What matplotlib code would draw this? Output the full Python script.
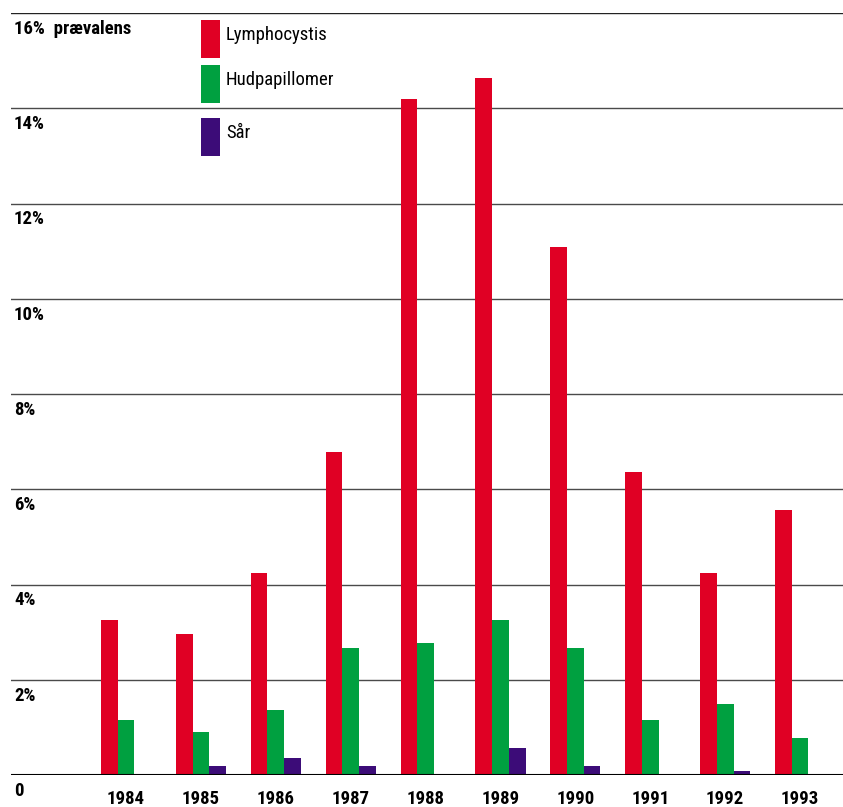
import matplotlib
matplotlib.use("Agg")
import matplotlib.pyplot as plt
from matplotlib.patches import Rectangle
import numpy as np

years = ["1984", "1985", "1986", "1987", "1988", "1989", "1990", "1991", "1992", "1993"]
lymphocystis = [3.25, 2.97, 4.25, 6.79, 14.2, 14.64, 11.08, 6.37, 4.25, 5.57]
hudpapillomer = [1.15, 0.90, 1.36, 2.66, 2.77, 3.26, 2.66, 1.15, 1.49, 0.77]
saar = [0.0, 0.19, 0.36, 0.19, 0.0, 0.57, 0.19, 0.0, 0.08, 0.0]
series_names = ["Lymphocystis", "Hudpapillomer", "Sår"]
colors = ["#E00024", "#00A040", "#3C0C78"]
ytick_vals = [2, 4, 6, 8, 10, 12, 14]
ytick_labels = ["2%", "4%", "6%", "8%", "10%", "12%", "14%"]

FONT = ["Roboto Condensed", "DejaVu Sans"]
plt.rcParams['font.family'] = FONT

W, H = 843, 807
fig = plt.figure(figsize=(W / 100, H / 100), dpi=100)
ax_left, ax_right, ax_bottom, ax_top = 11, 843, 775, 13
ax = fig.add_axes([ax_left / W, (H - ax_bottom) / H, (ax_right - ax_left) / W, (ax_bottom - ax_top) / H])

x = np.arange(len(years))
bw = 0.223
for k, (vals, c) in enumerate(zip([lymphocystis, hudpapillomer, saar], colors)):
    ax.bar(x + (k - 1) * bw, vals, width=bw, color=c, linewidth=0, zorder=3)

ax.set_ylim(0, 16)
ax.set_xlim(-1.535, 9.573)
for s in ax.spines.values():
    s.set_visible(False)
ax.set_yticks([])
ax.set_xticks(x)
ax.set_xticklabels(years, fontsize=13.5, fontweight='bold', family=FONT)
ax.tick_params(axis='x', length=0, pad=11)

for v in ytick_vals:
    ax.axhline(v, color='#4a4a4a', lw=1.0, zorder=1)
ax.axhline(16, color='#222222', lw=1.0, zorder=1)
ax.axhline(0, color='black', lw=1.5, zorder=4)

def ylabel(v, s):
    ax.annotate(s, xy=(0, v), xycoords=('axes fraction', 'data'), xytext=(2.2, -5.0),
                textcoords='offset points', ha='left', va='top', fontsize=13.5,
                fontweight='bold', family=FONT)

for v, s in zip(ytick_vals, ytick_labels):
    ylabel(v, s)
ylabel(16, "16%  prævalens")
ylabel(0, "0")

# legend
leg_y = [20, 65, 118]
for name, c, yt in zip(series_names, colors, leg_y):
    fig.add_artist(Rectangle((201 / W, (H - yt - 38) / H), 19 / W, 38 / H,
                             transform=fig.transFigure, color=c, lw=0))
    fig.text(226 / W, (H - yt - 15) / H, name, fontsize=13.5, ha='left', va='center', family=FONT)

fig.savefig("out.png", dpi=100)
